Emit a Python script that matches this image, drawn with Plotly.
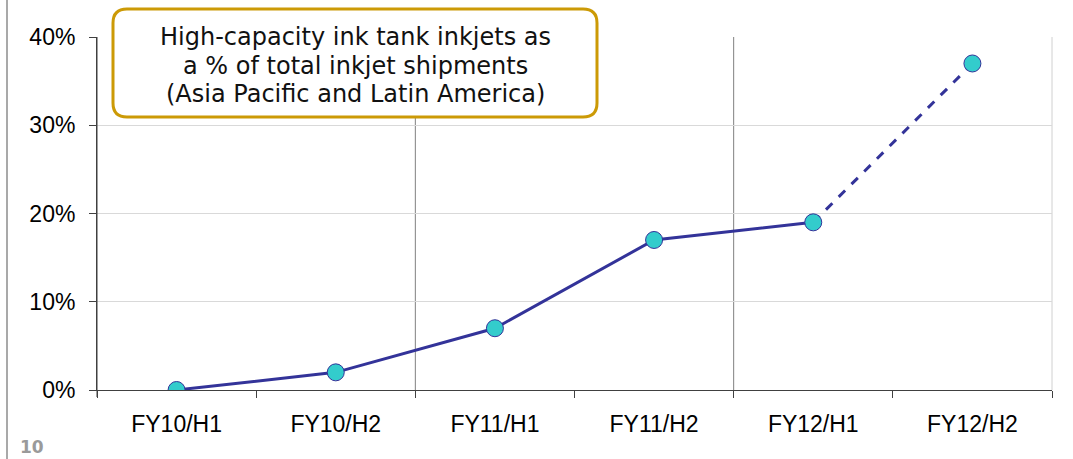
import plotly.graph_objects as go

categories = ["FY10/H1", "FY10/H2", "FY11/H1", "FY11/H2", "FY12/H1", "FY12/H2"]
values = [0, 2, 7, 17, 19, 37]
n_actual = 5  # first five are actual, last segment is projected (dashed)
y_ticks = [0, 10, 20, 30, 40]
title_lines = ["High-capacity ink tank inkjets as",
               "a % of total inkjet shipments",
               "(Asia Pacific and Latin America)"]
page_number = "10"

W, H = 1073, 459
ML, MR, MT, MB = 97, 21, 37, 69
PW, PH = W - ML - MR, H - MT - MB

def px_x(px):
    return (px - ML) / PW

def px_y(py):
    return (H - MB - py) / PH

LINE = "#333399"
FILL = "#33CCCC"

fig = go.Figure()
fig.add_trace(go.Scatter(x=categories[:n_actual], y=values[:n_actual], mode="lines",
                         line=dict(color=LINE, width=3), hoverinfo="skip", showlegend=False))
fig.add_trace(go.Scatter(x=categories[n_actual - 1:], y=values[n_actual - 1:], mode="lines",
                         line=dict(color=LINE, width=3, dash="9px,9px"), hoverinfo="skip", showlegend=False))
fig.add_trace(go.Scatter(x=categories, y=values, mode="markers",
                         marker=dict(size=17, color=FILL, line=dict(color=LINE, width=1)),
                         showlegend=False))

shapes = []
# vertical gridlines between category pairs
for xb in [1.5, 3.5]:
    shapes.append(dict(type="line", xref="x", yref="paper", x0=xb, x1=xb, y0=0, y1=1,
                       line=dict(color="#808080", width=1), layer="below"))
# right border
shapes.append(dict(type="line", xref="paper", yref="paper", x0=1, x1=1, y0=0, y1=1,
                   line=dict(color="#d0d0d0", width=1), layer="below"))
# page left border
shapes.append(dict(type="line", xref="paper", yref="paper", x0=px_x(7), x1=px_x(7),
                   y0=px_y(H), y1=px_y(0), line=dict(color="#8c8c8c", width=1.5)))
# y-axis extension below x axis
shapes.append(dict(type="line", xref="paper", yref="paper", x0=0, x1=0,
                   y0=px_y(397), y1=1, line=dict(color="#404040", width=1)))

# rounded title box
bx0, bx1, by0, by1, r = 113, 597, 9, 117, 14
x0, x1 = px_x(bx0), px_x(bx1)
yt, yb = px_y(by0), px_y(by1)
rx, ry = r / PW, r / PH
path = (f"M {x0+rx},{yt} L {x1-rx},{yt} Q {x1},{yt} {x1},{yt-ry} "
        f"L {x1},{yb+ry} Q {x1},{yb} {x1-rx},{yb} "
        f"L {x0+rx},{yb} Q {x0},{yb} {x0},{yb+ry} "
        f"L {x0},{yt-ry} Q {x0},{yt} {x0+rx},{yt} Z")
shapes.append(dict(type="path", xref="paper", yref="paper", path=path,
                   fillcolor="white", line=dict(color="#CC9A06", width=3), layer="above"))

annotations = []
for line, cy in zip(title_lines, [37, 66, 94]):
    annotations.append(dict(text=line, xref="paper", yref="paper",
                            x=px_x((bx0 + bx1) / 2), y=px_y(cy), xanchor="center", yanchor="middle",
                            showarrow=False, align="center",
                            font=dict(family="DejaVu Sans", size=24, color="#111111")))
annotations.append(dict(text=f"<b>{page_number}</b>", xref="paper", yref="paper",
                        x=px_x(18), y=px_y(446.5), xanchor="left", yanchor="middle", showarrow=False,
                        font=dict(family="DejaVu Sans", size=17, color="#9a9a9a")))

fig.update_layout(
    width=W, height=H,
    margin=dict(l=ML, r=MR, t=MT, b=MB, pad=0),
    paper_bgcolor="white", plot_bgcolor="white",
    shapes=shapes, annotations=annotations,
    xaxis=dict(type="category", range=[-0.5, 5.5], showgrid=False, tickson="boundaries",
               ticks="outside", ticklen=7, tickcolor="#404040", showline=True,
               linecolor="#404040", linewidth=1, ticklabelstandoff=13,
               tickfont=dict(family="Liberation Sans", size=23, color="black"), zeroline=False),
    yaxis=dict(range=[0, 40], tickvals=y_ticks, ticktext=[f"{v}%" for v in y_ticks],
               showgrid=True, gridcolor="#d9d9d9", gridwidth=1, zeroline=False,
               ticks="outside", ticklen=7, tickcolor="#404040", showline=True,
               linecolor="#404040", linewidth=1, ticklabelstandoff=9,
               tickfont=dict(family="Liberation Sans", size=23, color="black")),
)

fig.write_html("out.html")
